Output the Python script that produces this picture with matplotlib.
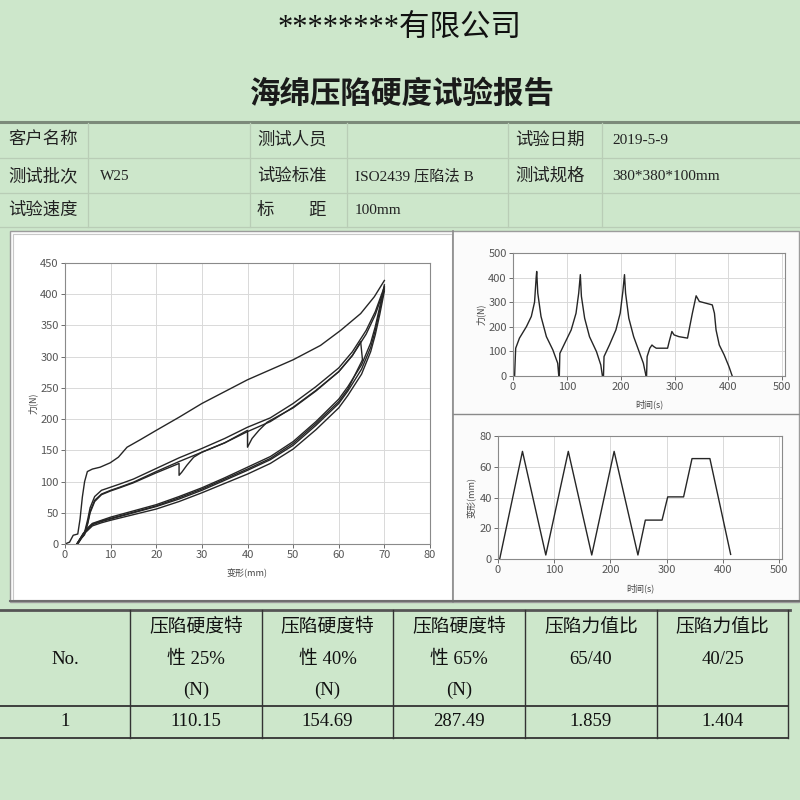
import matplotlib
matplotlib.use("Agg")
import matplotlib.pyplot as plt
from matplotlib.patches import Rectangle

plt.rcParams['font.family'] = ['Noto Sans CJK SC', 'DejaVu Sans']
plt.rcParams['axes.unicode_minus'] = False
SERIF = ['Liberation Serif', 'Noto Sans CJK SC']

# ---- 文字 ----
company = "********有限公司"
title = "海绵压陷硬度试验报告"
info_labels = [["客户名称", "测试人员", "试验日期"],
               ["测试批次", "试验标准", "测试规格"],
               ["试验速度", "标　　距", ""]]
info_values = [["", "", "2019-5-9"],
               ["W25", "ISO2439 压陷法 B", "380*380*100mm"],
               ["", "100mm", ""]]
result_header = [["No."],
                 ["压陷硬度特", "性 25%", "(N)"],
                 ["压陷硬度特", "性 40%", "(N)"],
                 ["压陷硬度特", "性 65%", "(N)"],
                 ["压陷力值比", "65/40"],
                 ["压陷力值比", "40/25"]]
result_values = ["1", "110.15", "154.69", "287.49", "1.859", "1.404"]

# ---- 力-变形曲线 (mm, N) ----
load1_x = [0, 1, 1.8, 2.8, 3.3, 3.8, 4.3, 4.9, 6, 7.7, 9.9, 11.7, 13.6, 16.5, 20, 25, 30,
           35, 40, 45, 50, 56, 60.4, 64.8, 67.8, 70]
load1_y = [0, 3, 14, 16, 40, 75, 100, 116, 120, 123, 130, 139, 155, 167, 182, 203, 225,
           244, 263, 279, 295, 318, 342, 369, 396, 422]

load_x = [2.6, 3.5, 4.2, 5, 5.5, 6.5, 8, 10, 12, 15, 20, 25, 30, 35, 40, 45, 50, 55, 60,
          63, 66, 68, 69, 70]
load2_y = [0, 10, 16, 40, 58, 76, 86, 91, 96, 104, 121, 138, 153, 169, 187, 202, 225, 252,
           282, 308, 342, 372, 392, 412]
load3_y = [0, 9, 15, 35, 52, 70, 80, 86, 91, 99, 116, 132, 147, 162, 180, 196, 219, 246,
           276, 302, 336, 367, 388, 408]

load4_x = [2.8, 3.6, 4.3, 5, 5.5, 6.5, 8, 10, 12, 15, 20, 25, 25, 25.6, 26.7, 28.2, 30, 35,
           40, 40, 41, 42.5, 44.3, 50, 55, 60, 63, 64.8, 65.2]
load4_y = [0, 9, 15, 33, 50, 68, 79, 85, 90, 98, 114, 129, 110, 115, 126, 139, 147, 162,
           182, 155, 169, 182, 195, 218, 245, 276, 302, 324, 295]

unload_x = [70, 69, 68, 67, 65, 62, 60, 55, 50, 45, 40, 35, 30, 25, 20, 15, 10, 8, 6, 5, 4,
            3.5, 3, 2.6]
unload1_y = [415, 380, 348, 322, 287, 252, 232, 196, 164, 140, 123, 106, 90, 76, 63, 53, 43,
             38, 33, 26, 17, 11, 5, 0]
unload2_y = [410, 375, 342, 315, 280, 245, 225, 190, 158, 135, 118, 102, 86, 72, 60, 50, 40,
             36, 31, 24, 16, 10, 4, 0]
unload3_y = [405, 368, 335, 308, 272, 238, 218, 183, 152, 129, 112, 97, 82, 68, 56, 47, 38,
             34, 29, 22, 15, 9, 3, 0]
unload4_x = [65.2, 62, 60, 55, 50, 45, 40, 35, 30, 25, 20, 15, 10, 8, 6, 5, 4, 3.5, 3, 2.7]
unload4_y = [295, 248, 228, 193, 161, 137, 120, 104, 88, 74, 61, 51, 41, 37, 32, 25, 16, 10,
             4, 0]

# ---- 力-时间 (s, N) ----
force_t = [0, 3, 4, 5, 12, 25, 34, 40, 43, 44, 46, 52, 62, 74, 83, 85,
           86, 87, 96, 108, 117, 122, 125, 127, 133, 142, 155, 163, 166,
           168, 169, 179, 191, 199, 204, 207, 209, 215, 224, 233, 242, 247,
           248, 249, 254, 258, 261, 266, 287, 290, 295, 299, 308, 324, 327, 333,
           340, 346, 370, 374, 377, 383, 392, 401, 407]
force_f = [0, 0, 60, 113, 154, 201, 242, 300, 400, 425, 337, 242, 160, 106, 52, 0,
           0, 92, 133, 187, 255, 337, 412, 324, 235, 160, 99, 45, 0,
           0, 79, 126, 187, 255, 344, 412, 337, 235, 160, 106, 52, 0,
           0, 79, 113, 126, 120, 113, 113, 140, 181, 167, 160, 154, 188, 255,
           326, 303, 289, 255, 187, 126, 86, 38, 0]

# ---- 变形-时间 (s, mm) ----
deform_t = [0, 3, 43.5, 85, 125, 166.7, 206.5, 248.8, 262, 291.7, 301.8, 330, 345, 376.8,
            413.7]
deform_d = [0, 0, 70, 2.6, 70, 2.6, 70, 2.6, 25.3, 25.3, 40.4, 40.4, 65.3, 65.3, 3]

BG = "#cde7cb"
LINE = "#262626"


def rect(l, t, r, b):
    # 像素坐标 -> figure 坐标
    return [l / 800, 1 - b / 800, (r - l) / 800, (b - t) / 800]


def style(ax, xlim, ylim, xticks, yticks):
    ax.set_facecolor("white")
    ax.set_xlim(*xlim)
    ax.set_ylim(*ylim)
    ax.set_xticks(xticks)
    ax.set_yticks(yticks)
    ax.grid(True, color="#d9d9d9", lw=0.7)
    ax.set_axisbelow(True)
    for s in ax.spines.values():
        s.set_color("#8a8a8a")
        s.set_linewidth(0.8)
    ax.tick_params(labelsize=8, colors="#555555", length=3, width=0.6, pad=1.5)


fig = plt.figure(figsize=(8, 8), dpi=100)
fig.patch.set_facecolor(BG)
bg = fig.add_axes([0, 0, 1, 1])
bg.set_xlim(0, 800)
bg.set_ylim(800, 0)
bg.axis("off")

# ---- 标题 ----
bg.text(400, 29, company, ha="center", va="center", fontsize=22, family=SERIF, color="#111")
bg.text(402, 94, title, ha="center", va="center", fontsize=22, weight="bold", color="#1a1a1a")

# ---- 信息表 ----
bg.plot([0, 800], [122, 122], color="#7c8a7a", lw=2.2)
for y in [158, 193, 227]:
    bg.plot([0, 800], [y, y], color="#b9cdb6", lw=0.9)
for x in [88, 250, 347, 508, 602]:
    bg.plot([x, x], [123, 227], color="#b9cdb6", lw=0.9)
row_y = [140, 176, 210]
label_x = [8, 257, 515]
value_x = [100, 355, 612]
for i in range(3):
    for j in range(3):
        if info_labels[i][j]:
            bg.text(label_x[j], row_y[i], info_labels[i][j], ha="left", va="center",
                    fontsize=12.5, color="#222")
        if info_values[i][j]:
            bg.text(value_x[j], row_y[i], info_values[i][j], ha="left", va="center",
                    fontsize=11, family=SERIF, color="#222")

# ---- 曲线面板 ----
bg.add_patch(Rectangle((10, 231), 789, 371, fc="#fbfbfb", ec="#9c9c9c", lw=1))
bg.add_patch(Rectangle((13, 234), 439, 366, fc="white", ec="#c8c8c8", lw=0.8))
bg.plot([453, 453], [231, 602], color="#8a8a8a", lw=1.2)
bg.plot([453, 799], [414, 414], color="#8a8a8a", lw=1.0)
bg.plot([10, 799], [601, 601], color="#6f6f6f", lw=1.5)

ax1 = fig.add_axes(rect(65, 263, 430, 544))
style(ax1, (0, 80), (0, 450), range(0, 81, 10), range(0, 451, 50))
for xs, ys in [(load1_x, load1_y), (load_x, load2_y), (load_x, load3_y),
               (load4_x, load4_y), (unload_x, unload1_y), (unload_x, unload2_y),
               (unload_x, unload3_y), (unload4_x, unload4_y)]:
    ax1.plot(xs, ys, color=LINE, lw=1.0)
ax1.set_xlabel("变形(mm)", fontsize=6.5, color="#444", labelpad=6)
ax1.set_ylabel("力(N)", fontsize=6.5, color="#444", labelpad=2)

ax2 = fig.add_axes(rect(513, 253, 785, 376))
style(ax2, (0, 505), (0, 500), range(0, 501, 100), range(0, 501, 100))
ax2.plot(force_t, force_f, color=LINE, lw=1.0)
ax2.set_xlabel("时间(s)", fontsize=6.5, color="#444", labelpad=5)
ax2.set_ylabel("力(N)", fontsize=6.5, color="#444", labelpad=2)

ax3 = fig.add_axes(rect(498, 436, 782, 559))
style(ax3, (0, 505), (0, 80), range(0, 501, 100), range(0, 81, 20))
ax3.plot(deform_t, deform_d, color=LINE, lw=1.0)
ax3.set_xlabel("时间(s)", fontsize=6.5, color="#444", labelpad=6)
ax3.set_ylabel("变形(mm)", fontsize=6.5, color="#444", labelpad=2)

# ---- 结果表 ----
cols = [0, 130, 262, 393, 525, 657, 788]
bg.plot([0, 790], [610, 610], color="#555", lw=2)
bg.plot([0, 788], [706, 706], color="#333", lw=1.3)
bg.plot([0, 788], [738, 738], color="#333", lw=1.3)
for x in cols[1:]:
    bg.plot([x, x], [610, 738], color="#333", lw=1.0)
line_y = {1: [659], 2: [627, 659], 3: [627, 659, 690]}
for j, lines in enumerate(result_header):
    cx = (cols[j] + cols[j + 1]) / 2
    for k, txt in enumerate(lines):
        bg.text(cx, line_y[len(lines)][k], txt, ha="center", va="center", fontsize=13.5,
                family=SERIF, color="#111")
    bg.text(cx, 722, result_values[j], ha="center", va="center", fontsize=13.5,
            family=SERIF, color="#111")

fig.savefig("out.png", dpi=100, facecolor=BG)
